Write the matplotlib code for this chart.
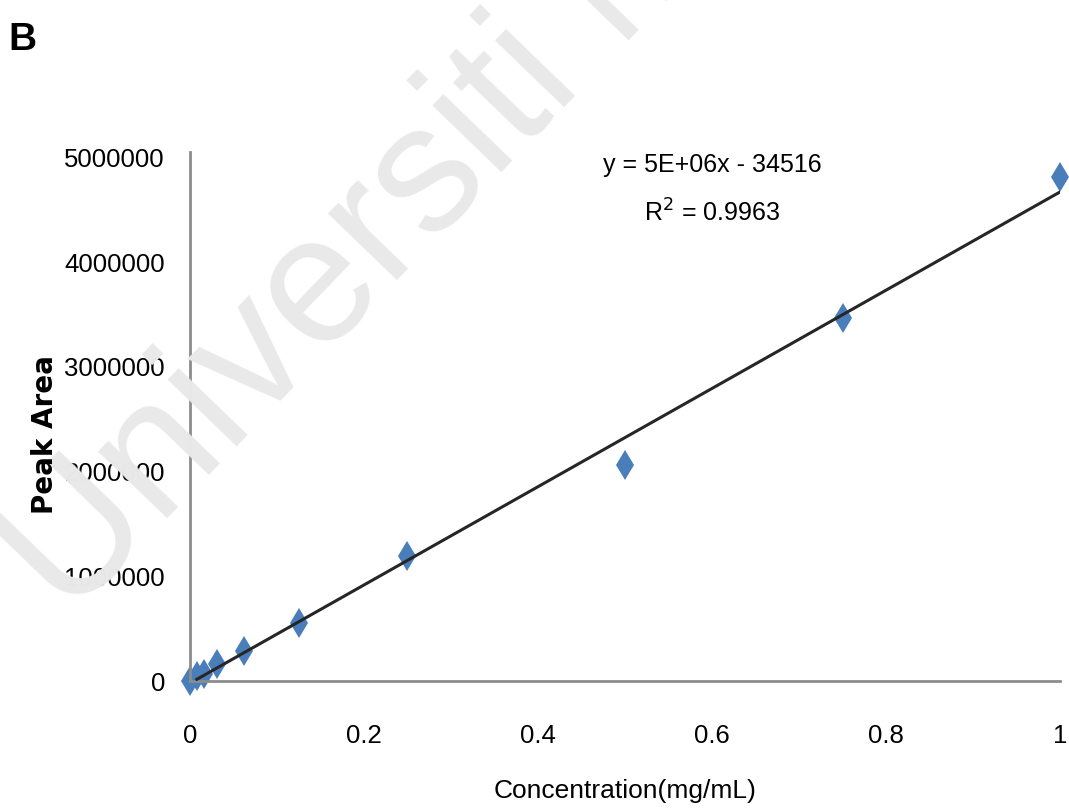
import matplotlib.pyplot as plt
import numpy as np

# calibration data
conc = [0, 0.0078, 0.0156, 0.03125, 0.0625, 0.125, 0.25, 0.5, 0.75, 1.0]
peak_area = [0, 50000, 70000, 160000, 290000, 550000, 1190000, 2060000, 3470000, 4810000]
yticks = [0, 1000000, 2000000, 3000000, 4000000, 5000000]
xticks = [0, 0.2, 0.4, 0.6, 0.8, 1]
xticklabels = ['0', '0.2', '0.4', '0.6', '0.8', '1']

font = ['Liberation Sans', 'DejaVu Sans']

fig = plt.figure(figsize=(10.69, 8.09), dpi=100)

# watermark
fig.text(0.0645, 0.2324, 'Universiti Malaya', fontsize=130, color='#e9e9e9',
         rotation=46, rotation_mode='anchor', ha='left', va='baseline',
         family=font, zorder=0)

ax = fig.add_axes([0.1777, 0.1582, 0.8139, 0.6539])
ax.patch.set_alpha(0)

x = np.array(conc)
y = np.array(peak_area)
m, b = np.polyfit(x, y, 1)
xl = np.array([x[1], x[-1]])
ax.plot(xl, m * xl + b, color='#262626', lw=2.2, zorder=3)

ax.plot(x, y, linestyle='none', marker='d', markersize=15.5, color='#4a7ebb',
        markeredgewidth=0, zorder=2, clip_on=False)

ax.set_xlim(0, 1)
ax.set_ylim(0, 5.05e6)
ax.set_xticks(xticks)
ax.set_xticklabels(xticklabels)
ax.set_yticks(yticks)
ax.set_yticklabels([str(v) for v in yticks])

for s in ['top', 'right']:
    ax.spines[s].set_visible(False)
for s in ['left', 'bottom']:
    ax.spines[s].set_color('#8c8c8c')
    ax.spines[s].set_linewidth(2)

ax.tick_params(axis='both', length=0)
ax.tick_params(axis='x', pad=31)
ax.tick_params(axis='y', pad=18)
for lab in ax.get_xticklabels() + ax.get_yticklabels():
    lab.set_family(font)
    lab.set_fontsize(18.5)

ax.set_xlabel('Concentration(mg/mL)', family=font, fontsize=19, labelpad=22)
fig.text(0.042, 0.463, 'Peak Area', rotation=90, fontsize=20, fontweight='bold',
         family='DejaVu Sans', ha='center', va='center')

ax.text(0.6, 0.975, 'y = 5E+06x - 34516', transform=ax.transAxes, ha='center',
        va='center', family=font, fontsize=18)
ax.text(0.6, 0.885, 'R$^2$ = 0.9963', transform=ax.transAxes, ha='center',
        va='center', family=font, fontsize=18)

fig.text(0.008, 0.950, 'B', fontsize=28, fontweight='bold', family=font,
         ha='left', va='center')

plt.savefig('out.png', dpi=100)
